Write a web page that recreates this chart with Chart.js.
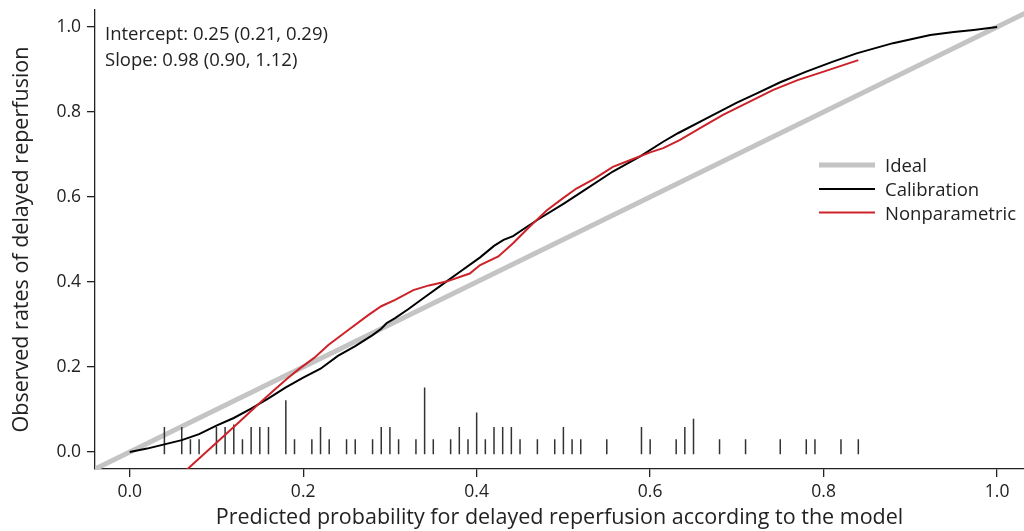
<!DOCTYPE html>
<html><head><meta charset="utf-8">
<script src="https://cdn.jsdelivr.net/npm/chart.js@4.4.1/dist/chart.umd.min.js"></script>
<style>html,body{margin:0;padding:0;background:#fff;overflow:hidden}</style>
</head><body>
<canvas id="c" width="1024" height="531" style="display:block;width:1024px;height:531px"></canvas>
<script>
// ---------- data ----------
const xTicks = [0, 0.2, 0.4, 0.6, 0.8, 1.0];
const xTickLabels = ['0.0', '0.2', '0.4', '0.6', '0.8', '1.0'];
const yTicks = [0, 0.2, 0.4, 0.6, 0.8, 1.0];
const yTickLabels = ['0.0', '0.2', '0.4', '0.6', '0.8', '1.0'];

const seriesNames = ['Ideal', 'Calibration', 'Nonparametric'];
const statsText = ['Intercept: 0.25 (0.21, 0.29)', 'Slope: 0.98 (0.90, 1.12)'];
const xTitle = 'Predicted probability for delayed reperfusion according to the model';
const yTitle = 'Observed rates of delayed reperfusion';

const idealX = [-0.1, 1.1];
const idealY = [-0.1, 1.1];

const calX = [0.000, 0.02, 0.04, 0.06, 0.08, 0.10, 0.12, 0.14, 0.16, 0.18, 0.20, 0.22, 0.24, 0.26, 0.28, 0.29, 0.296, 0.306, 0.321, 0.34, 0.365, 0.38, 0.404, 0.42, 0.431, 0.442, 0.458, 0.473, 0.50, 0.519, 0.557, 0.588, 0.615, 0.632, 0.665, 0.70, 0.723, 0.75, 0.78, 0.81, 0.838, 0.88, 0.923, 0.95, 0.973, 1.0];
const calY = [0.000, 0.008, 0.018, 0.028, 0.042, 0.062, 0.080, 0.102, 0.126, 0.152, 0.175, 0.196, 0.226, 0.249, 0.275, 0.290, 0.303, 0.315, 0.336, 0.364, 0.401, 0.423, 0.458, 0.485, 0.499, 0.508, 0.530, 0.550, 0.584, 0.609, 0.660, 0.695, 0.730, 0.750, 0.785, 0.822, 0.844, 0.870, 0.895, 0.918, 0.938, 0.962, 0.981, 0.988, 0.993, 1.0];

const npX = [0.064, 0.10, 0.125, 0.148, 0.165, 0.181, 0.195, 0.213, 0.229, 0.252, 0.275, 0.29, 0.306, 0.327, 0.345, 0.365, 0.392, 0.404, 0.425, 0.442, 0.461, 0.481, 0.50, 0.515, 0.535, 0.557, 0.581, 0.60, 0.615, 0.634, 0.66, 0.684, 0.742, 0.77, 0.800, 0.840];
const npY = [-0.045, 0.022, 0.068, 0.112, 0.143, 0.172, 0.195, 0.222, 0.252, 0.287, 0.322, 0.343, 0.358, 0.381, 0.392, 0.401, 0.420, 0.440, 0.460, 0.491, 0.530, 0.569, 0.598, 0.620, 0.642, 0.671, 0.690, 0.705, 0.715, 0.734, 0.765, 0.793, 0.852, 0.875, 0.895, 0.922];

const spikeX = [0.04, 0.06, 0.07, 0.08, 0.10, 0.11, 0.12, 0.13, 0.14, 0.15, 0.16, 0.18, 0.19, 0.21, 0.22, 0.23, 0.25, 0.26, 0.28, 0.29, 0.30, 0.31, 0.33, 0.34, 0.35, 0.37, 0.38, 0.39, 0.40, 0.41, 0.42, 0.43, 0.44, 0.45, 0.47, 0.49, 0.50, 0.51, 0.52, 0.55, 0.59, 0.60, 0.63, 0.64, 0.65, 0.68, 0.71, 0.75, 0.78, 0.79, 0.82, 0.84];
const spikeTop = [0.059, 0.059, 0.030, 0.030, 0.059, 0.059, 0.065, 0.030, 0.059, 0.059, 0.059, 0.122, 0.030, 0.030, 0.059, 0.030, 0.030, 0.030, 0.030, 0.059, 0.059, 0.030, 0.030, 0.152, 0.030, 0.030, 0.059, 0.030, 0.093, 0.030, 0.059, 0.059, 0.059, 0.030, 0.030, 0.030, 0.059, 0.030, 0.030, 0.030, 0.059, 0.030, 0.030, 0.059, 0.078, 0.030, 0.030, 0.030, 0.030, 0.030, 0.030, 0.030];
const spikeBase = -0.005;

// ---------- build ----------
const pts = (xs, ys) => xs.map((x, i) => ({x: x, y: ys[i]}));
const spikePts = [];
spikeX.forEach((x, i) => {
  spikePts.push({x: x, y: spikeBase});
  spikePts.push({x: x, y: spikeTop[i]});
  spikePts.push({x: x, y: null});
});

const FONT = "'Open Sans', 'Noto Sans', sans-serif";
const TXT = '#222';
const colors = ['#c4c4c4', '#000000', '#cc2229'];
const widths = [5, 2, 2];

const overlay = {
  id: 'overlay',
  afterDraw(chart) {
    const ctx = chart.ctx;
    ctx.save();
    ctx.fillStyle = TXT;
    ctx.font = '18.5px ' + FONT;
    ctx.textAlign = 'left';
    ctx.textBaseline = 'alphabetic';
    ctx.fillText(statsText[0], 105, 39.5);
    ctx.fillText(statsText[1], 105, 66);
    const rows = [165, 189, 212.5];
    seriesNames.forEach((n, i) => {
      ctx.strokeStyle = colors[i];
      ctx.lineWidth = widths[i];
      ctx.beginPath();
      ctx.moveTo(819, rows[i]);
      ctx.lineTo(875, rows[i]);
      ctx.stroke();
      ctx.fillText(n, 885, rows[i] + 7);
    });
    ctx.restore();
  }
};

Chart.defaults.font.family = FONT;
Chart.defaults.color = TXT;

new Chart(document.getElementById('c'), {
  type: 'scatter',
  data: {
    datasets: [
      {label: seriesNames[2], data: pts(npX, npY), showLine: true, borderColor: colors[2], borderWidth: widths[2], pointRadius: 0, tension: 0, clip: 0},
      {label: seriesNames[1], data: pts(calX, calY), showLine: true, borderColor: colors[1], borderWidth: widths[1], pointRadius: 0, tension: 0, clip: 0},
      {label: 'spikes', data: spikePts, showLine: true, spanGaps: false, borderColor: '#333', borderWidth: 1.5, pointRadius: 0, clip: 0},
      {label: seriesNames[0], data: pts(idealX, idealY), showLine: true, borderColor: colors[0], borderWidth: widths[0], pointRadius: 0, clip: 0}
    ]
  },
  options: {
    responsive: false,
    animation: false,
    devicePixelRatio: 1,
    layout: {padding: {top: 10, right: 0, left: 0, bottom: 0}},
    plugins: {legend: {display: false}, tooltip: {enabled: false}},
    scales: {
      x: {
        type: 'linear', min: -0.04, max: 1.031,
        afterBuildTicks: s => { s.ticks = xTicks.map(v => ({value: v})); },
        afterFit: s => { s.height = 62; s.paddingLeft = 0; s.paddingRight = 0; },
        ticks: {callback: (v, i) => xTickLabels[i], font: {size: 17.5}, color: TXT, padding: 5, maxRotation: 0},
        grid: {display: true, drawOnChartArea: false, drawTicks: true, tickLength: 8, color: '#222', lineWidth: 1.3},
        border: {display: true, color: '#222', width: 1.3},
        title: {display: true, text: xTitle, font: {size: 21.5}, color: TXT, padding: {top: 0, bottom: 0}}
      },
      y: {
        type: 'linear', min: -0.04, max: 1.04,
        afterBuildTicks: s => { s.ticks = yTicks.map(v => ({value: v})); },
        afterFit: s => { s.width = 95; s.paddingTop = 0; s.paddingBottom = 0; },
        ticks: {callback: (v, i) => yTickLabels[i], font: {size: 17.5}, color: TXT, padding: 6},
        grid: {display: true, drawOnChartArea: false, drawTicks: true, tickLength: 8, color: '#222', lineWidth: 1.3},
        border: {display: true, color: '#222', width: 1.3},
        title: {display: true, text: yTitle, font: {size: 21.5}, color: TXT, padding: {top: 9, bottom: 0}}
      }
    }
  },
  plugins: [overlay]
});
</script>
</body></html>
